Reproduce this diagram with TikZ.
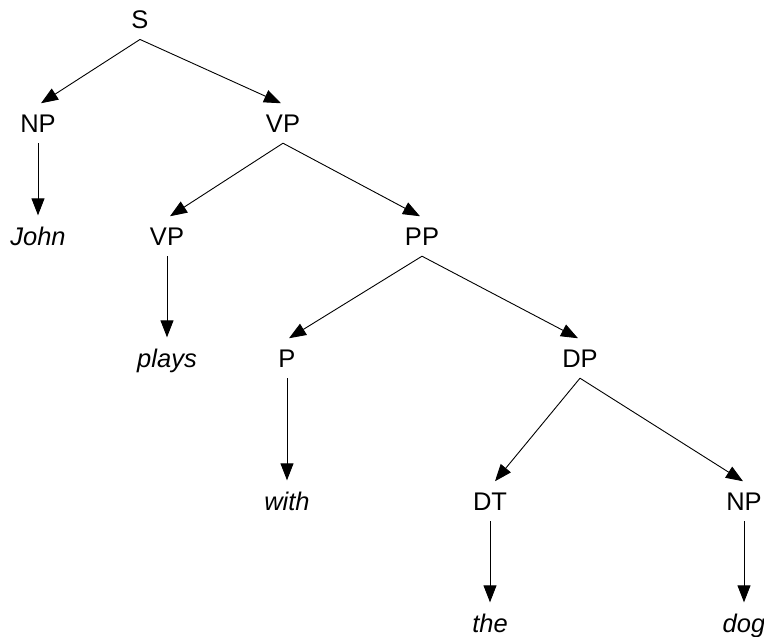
\documentclass[tikz,border=0pt]{standalone}
\usepackage{fontspec}
\setmainfont{Liberation Sans}
\usetikzlibrary{arrows.meta}
\begin{document}
\begin{tikzpicture}[x=1pt,y=-1pt,
  lbl/.style={anchor=base,inner xsep=3pt,inner ysep=11pt,font=\fontsize{25.5}{30}\selectfont},
  word/.style={lbl,font=\fontsize{25.5}{30}\selectfont\itshape},
  br/.style={draw=black,line width=0.9pt,-{Triangle[length=17pt,width=13pt]}}]
\useasboundingbox (0,0) rectangle (764,637);
\node[lbl] (S) at (140,28) {S};
\node[lbl] (NP1) at (38,132) {NP};
\node[lbl] (VP1) at (283,132) {VP};
\node[word] (john) at (38,245) {John};
\node[lbl] (VP2) at (167,245) {VP};
\node[lbl] (PP) at (422,245) {PP};
\node[word] (plays) at (167,367) {plays};
\node[lbl] (P) at (287,367) {P};
\node[lbl] (DP) at (580,367) {DP};
\node[word] (with) at (287,510) {with};
\node[lbl] (DT) at (490,510) {DT};
\node[lbl] (NP2) at (744,510) {NP};
\node[word] (the) at (490,632) {the};
\node[word] (dog) at (744,632) {dog};
\draw[br] (S.south) -- ([xshift=3pt]NP1.north);
\draw[br] (S.south) -- ([xshift=-2pt]VP1.north);
\draw[br] (NP1.south) -- (john.north);
\draw[br] (VP1.south) -- ([xshift=3pt]VP2.north);
\draw[br] (VP1.south) -- ([xshift=-2pt]PP.north);
\draw[br] (VP2.south) -- (plays.north);
\draw[br] (PP.south) -- ([xshift=2pt]P.north);
\draw[br] (PP.south) -- ([xshift=-2pt]DP.north);
\draw[br] (P.south) -- (with.north);
\draw[br] (DP.south) -- ([xshift=5pt]DT.north);
\draw[br] (DP.south) -- ([xshift=-1pt]NP2.north);
\draw[br] (DT.south) -- (the.north);
\draw[br] (NP2.south) -- (dog.north);
\end{tikzpicture}
\end{document}
